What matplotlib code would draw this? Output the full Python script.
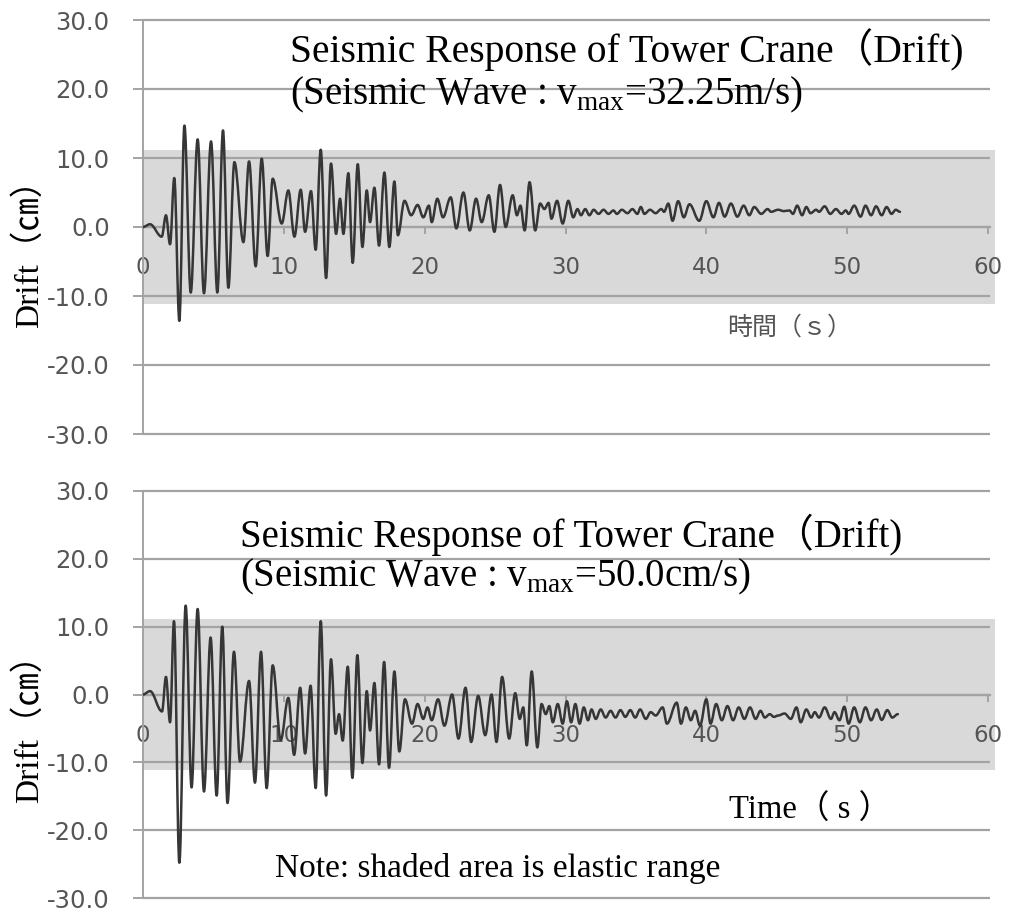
import matplotlib
matplotlib.use("Agg")
import matplotlib.pyplot as plt
from matplotlib.path import Path
from matplotlib.patches import PathPatch

plt.rcParams['mathtext.fontset'] = 'custom'
plt.rcParams['mathtext.rm'] = 'Liberation Serif'

# ---------------- data (turning points) ----------------
top_time = [0.0, 0.5, 1.33, 1.63, 1.92, 2.22, 2.58, 2.94, 3.39, 3.88, 4.33, 4.83, 5.28, 5.68,
            6.06, 6.49, 7.13, 7.53, 8.00, 8.43, 8.85, 9.21, 9.85, 10.32, 10.75, 11.20, 11.51,
            11.93, 12.26, 12.62, 13.00, 13.35, 13.71, 13.99, 14.23, 14.58, 14.89, 15.25, 15.58,
            15.89, 16.12, 16.43, 16.76, 17.14, 17.49, 17.85,
            18.1, 18.57, 19.04, 19.5, 19.9, 20.3, 20.5, 20.9, 21.3, 21.85, 22.25, 22.75, 23.2,
            23.65, 24.05, 24.55, 24.95, 25.35, 25.75, 26.25, 26.55, 26.8, 27.1, 27.45, 27.85,
            28.2, 28.5, 28.8, 29.0, 29.4, 29.8, 30.2,
            30.55, 30.85, 31.1, 31.4, 31.7, 32.0, 32.35, 32.7, 33.05, 33.4, 33.65, 34.0, 34.4,
            34.75, 35.1, 35.35, 35.6, 36.0, 36.4, 36.8, 37.0, 37.3, 37.6, 38.0, 38.4, 38.8,
            39.5, 40.0, 40.5, 40.9, 41.3, 41.75, 42.2, 42.65, 43.05, 43.4, 43.9, 44.35, 44.6,
            45.1, 45.5, 45.9, 46.15, 46.45, 46.8, 47.1, 47.4, 47.8, 48.0, 48.4, 48.8, 49.2,
            49.6, 49.9, 50.1, 50.5, 50.95, 51.3, 51.7, 52.05, 52.45, 52.8, 53.15, 53.45, 53.75]
top_drift = [0.0, 0.4, -1.4, 1.7, -2.5, 7.1, -13.6, 14.7, -9.5, 12.7, -9.6, 12.4, -9.5, 14.0,
             -8.8, 9.4, -2.2, 9.5, -5.7, 9.9, -4.2, 7.0, 0.5, 5.3, -1.4, 5.4, -0.7,
             5.2, -3.3, 11.2, -7.4, 9.2, -1.0, 4.1, -1.0, 7.8, -5.2, 9.1, -2.9,
             5.3, 0.7, 5.7, -2.7, 7.9, -2.9, 6.6,
             -1.2, 3.8, 1.7, 3.2, 1.4, 3.1, 0.7, 4.1, 1.4, 4.3, -0.2, 5.0, -0.5,
             4.1, 0.7, 4.6, -0.7, 6.1, 0.0, 4.6, 1.7, 3.1, -0.5, 6.5, -0.5,
             3.4, 2.6, 3.5, 1.2, 3.8, 0.5, 3.8,
             1.4, 2.6, 1.7, 2.6, 1.7, 2.5, 1.9, 2.5, 1.9, 2.4, 1.9, 2.5, 2.0,
             2.6, 1.9, 2.9, 1.9, 2.5, 2.0, 2.6, 2.2, 3.4, 0.9, 3.75, 1.4, 3.3,
             0.9, 3.75, 1.4, 3.5, 1.5, 3.4, 1.5, 3.1, 1.7, 2.9, 1.9, 2.6, 2.2,
             2.5, 2.3, 2.4, 1.9, 3.1, 1.7, 2.9, 2.0, 2.5, 2.2, 3.0, 1.9, 2.6,
             1.9, 2.4, 1.9, 3.1, 1.5, 3.1, 1.7, 3.0, 1.7, 2.9, 1.9, 2.5, 2.2]

bot_time = [0.0, 0.5, 1.35, 1.63, 1.92, 2.2, 2.58, 3.03, 3.45, 3.88, 4.33, 4.8, 5.23, 5.63,
            6.0, 6.46, 6.89, 7.53, 7.95, 8.38, 8.78, 9.21, 9.78, 10.32, 10.73, 11.16, 11.51,
            11.9, 12.26, 12.62, 13.0, 13.35, 13.68, 13.92, 14.18, 14.54, 14.87, 15.22, 15.58,
            15.89, 16.12, 16.43, 16.76, 17.12, 17.47, 17.85, 18.2,
            18.6, 19.1, 19.5, 19.9, 20.2, 20.5, 20.95, 21.4, 21.95, 22.4, 22.9, 23.3, 23.8,
            24.3, 24.75, 25.1, 25.5, 26.0, 26.43, 26.75, 27.0, 27.25, 27.6, 28.0, 28.3, 28.6,
            28.85, 29.1, 29.45, 29.8, 30.1, 30.4, 30.7, 31.0, 31.3, 31.6, 31.85, 32.15, 32.5,
            32.85, 33.2, 33.55, 33.9, 34.25, 34.6, 34.95, 35.3, 35.7, 36.05, 36.4, 36.9, 37.2,
            37.9, 38.2, 38.55, 38.9, 39.2, 39.55, 40.0, 40.3, 40.7, 41.1, 41.5, 41.9, 42.3,
            42.7, 43.1, 43.5, 43.85, 44.15, 44.5, 44.8, 45.1, 45.55, 46.0, 46.4, 46.7, 47.1,
            47.45, 47.7, 48.0, 48.4, 48.85, 49.1, 49.45, 49.8, 50.1, 50.5, 50.9, 51.3, 51.7,
            52.1, 52.45, 52.85, 53.2, 53.6]
bot_drift = [0.0, 0.5, -2.5, 2.6, -4.1, 10.8, -24.8, 13.1, -13.7, 12.6, -14.3, 8.4, -14.9, 10.0,
             -16.0, 6.3, -9.9, 2.0, -13.0, 6.3, -13.8, 4.3, -6.7, -0.5, -8.9, 1.0, -8.7,
             1.3, -13.8, 10.8, -14.9, 5.2, -5.8, -2.9, -6.8, 4.1, -12.3, 5.8, -10.1,
             0.5, -5.3, 1.7, -10.3, 4.8, -10.8, 3.4, -8.4,
             -0.7, -4.3, -1.4, -3.6, -1.9, -3.8, -0.7, -4.6, 0.0, -6.5, 1.0, -7.0, -0.2,
             -6.0, 0.0, -7.0, 2.6, -6.5, 0.2, -3.6, -1.9, -7.5, 3.4, -7.8, -1.4, -2.9,
             -1.7, -4.1, -1.4, -4.3, -1.0, -4.1, -1.4, -4.3, -1.9, -3.8, -2.2, -3.6, -2.2,
             -3.4, -2.4, -3.4, -2.3, -3.3, -2.3, -3.4, -2.2, -3.6, -2.6, -3.1, -1.9, -4.3,
             -1.2, -4.3, -1.9, -3.8, -2.4, -4.6, -0.7, -4.3, -1.4, -3.8, -1.7, -3.8, -1.9,
             -3.6, -1.9, -3.6, -2.4, -3.4, -2.9, -3.3, -3.1, -2.8, -3.6, -1.9, -4.1, -2.2,
             -3.4, -2.6, -3.4, -1.9, -3.6, -2.6, -3.8, -1.8, -4.3, -1.9, -4.1, -1.9, -3.8,
             -2.2, -3.75, -2.3, -3.4, -2.9]

y_ticks = [-30, -20, -10, 0, 10, 20, 30]
y_tick_labels = ["-30.0", "-20.0", "-10.0", "0.0", "10.0", "20.0", "30.0"]
x_ticks = [0, 10, 20, 30, 40, 50, 60]
x_tick_labels = ["0", "10", "20", "30", "40", "50", "60"]
elastic_limit = 11.2

title1 = "Seismic Response of Tower Crane\uff08Drift)"
sub_top = r"(Seismic Wave : v$_{\mathregular{max}}$=32.25m/s)"
sub_bot = r"(Seismic Wave : v$_{\mathregular{max}}$=50.0cm/s)"
ylabel = "Drift\uff08\u339d\uff09"
xlabel_top = "時間（ｓ）"
xlabel_bot = "Time\uff08 s \uff09"
note = "Note: shaded area is elastic range"

# ---------------- figure ----------------
W, H = 1011, 918
fig = plt.figure(figsize=(W / 100, H / 100), dpi=100)
fig.patch.set_facecolor("white")

GRID = "#a3a3a3"
TICKC = "#555555"
serif = ["Liberation Serif", "Noto Sans CJK JP", "DejaVu Sans"]


def make_axes(x0px, x60px, y30px, ym30px):
    xmax, ypad = 60.15, 0.4
    pxs = (x60px - x0px) / 60.0
    pys = (ym30px - y30px) / 60.0
    left = x0px
    right = x0px + xmax * pxs
    top = y30px - ypad * pys
    bottom = ym30px + ypad * pys
    ax = fig.add_axes([left / W, 1 - bottom / H, (right - left) / W, (bottom - top) / H])
    ax.set_xlim(0, xmax)
    ax.set_ylim(-30 - ypad, 30 + ypad)
    ax.set_facecolor("white")
    return ax


def smooth_trace(ax, t, d):
    """Draw the turning points joined by smooth (horizontal-tangent) Bezier segments."""
    verts = [(t[0], d[0])]
    codes = [Path.MOVETO]
    k = 0.36
    for i in range(1, len(t)):
        dt = t[i] - t[i - 1]
        verts += [(t[i - 1] + k * dt, d[i - 1]), (t[i] - k * dt, d[i]), (t[i], d[i])]
        codes += [Path.CURVE4] * 3
    patch = PathPatch(Path(verts, codes), facecolor="none", edgecolor="#363636",
                      lw=1.8, zorder=3, joinstyle="round", capstyle="round")
    ax.add_patch(patch)


def style(ax, t, d):
    ax.axhspan(-elastic_limit, elastic_limit, xmin=0, xmax=1.006, color="#d9d9d9",
               lw=0, zorder=0.2, clip_on=False)
    ax.set_yticks(y_ticks)
    ax.set_yticklabels(y_tick_labels)
    ax.set_xticks(x_ticks)
    ax.set_xticklabels(x_tick_labels)
    ax.set_axisbelow(True)
    ax.yaxis.grid(True, color=GRID, lw=1.6)
    for s in ("top", "right"):
        ax.spines[s].set_visible(False)
    ax.spines["left"].set_color(GRID)
    ax.spines["left"].set_linewidth(1.4)
    ax.spines["left"].set_bounds(-30, 30)
    ax.spines["bottom"].set_position(("data", 0))
    ax.spines["bottom"].set_color(GRID)
    ax.spines["bottom"].set_linewidth(1.6)
    ax.tick_params(axis="y", direction="out", length=7, width=1.4, color=GRID,
                   pad=17, labelsize=17.5, labelcolor=TICKC)
    ax.tick_params(axis="x", direction="out", length=5, width=1.4, color=GRID,
                   pad=16, labelsize=16.5, labelcolor=TICKC)
    for lab in ax.get_xticklabels() + ax.get_yticklabels():
        lab.set_family("DejaVu Sans")
    smooth_trace(ax, t, d)


ax1 = make_axes(143, 988, 20, 434)
ax2 = make_axes(143, 988, 491, 898)
style(ax1, top_time, top_drift)
style(ax2, bot_time, bot_drift)

# titles
fig.text(290 / W, 1 - 50 / H, title1, family=serif, fontsize=28.5, va="center", ha="left")
fig.text(290 / W, 1 - 95 / H, sub_top, family="Liberation Serif", fontsize=28, va="center", ha="left")
fig.text(240 / W, 1 - 535 / H, title1, family=serif, fontsize=28, va="center", ha="left")
fig.text(240 / W, 1 - 577 / H, sub_bot, family="Liberation Serif", fontsize=28, va="center", ha="left")

# axis labels
fig.text(29 / W, 1 - 245 / H, ylabel, family=serif, fontsize=24, rotation=90,
         va="center", ha="center")
fig.text(29 / W, 1 - 720 / H, ylabel, family=serif, fontsize=24, rotation=90,
         va="center", ha="center")
fig.text(790 / W, 1 - 328 / H, xlabel_top, family=["Noto Sans CJK JP"], fontsize=18,
         color=TICKC, va="center", ha="center")
fig.text(810 / W, 1 - 810 / H, xlabel_bot, family=serif, fontsize=23.5, va="center", ha="center")
fig.text(275 / W, 1 - 868 / H, note, family=serif, fontsize=24, va="center", ha="left")

fig.savefig("out.png", dpi=100, facecolor="white")
